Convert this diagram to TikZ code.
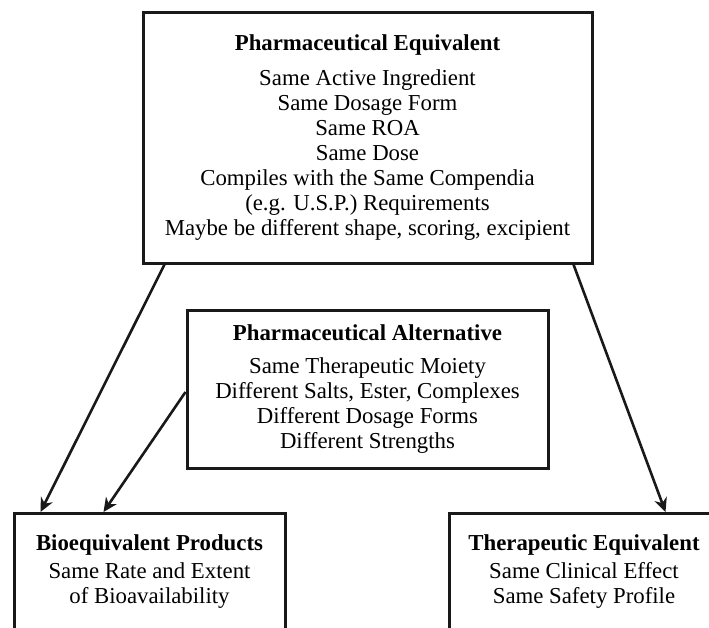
\documentclass[tikz,border=0pt]{standalone}
\usepackage{fontspec}
\setmainfont{Liberation Serif}
\usetikzlibrary{arrows.meta}
\begin{document}
\begin{tikzpicture}[x=1pt,y=1pt,
  box/.style={draw=black!90, line width=3pt, align=center, inner sep=0pt,
    font=\fontsize{22.8}{25}\selectfont},
  conn/.style={draw=black!90, line width=2.6pt, -{Stealth[length=14pt,width=13pt]}}]
\clip (0,0) rectangle (709,-627);
\node[box, minimum width=449, minimum height=251] (pe) at (367.5,-137.5)
  {\textbf{Pharmaceutical Equivalent}\\[10pt]
   Same Active Ingredient\\
   Same Dosage Form\\
   Same ROA\\
   Same Dose\\
   Compiles with the Same Compendia\\
   (e.g. U.S.P.) Requirements\\
   Maybe be different shape, scoring, excipient};
\node[box, minimum width=361, minimum height=158] (alt) at (367.5,-389)
  {\textbf{Pharmaceutical Alternative}\\[8pt]
   Same Therapeutic Moiety\\
   Different Salts, Ester, Complexes\\
   Different Dosage Forms\\
   Different Strengths};
\node[box, minimum width=271, minimum height=116, anchor=north] (bio) at (149.5,-512)
  {\textbf{Bioequivalent Products}\\[3pt]
   Same Rate and Extent\\
   of Bioavailability};
\node[box, minimum width=270, minimum height=116, anchor=north] (ther) at (584,-512)
  {\textbf{Therapeutic Equivalent}\\[3pt]
   Same Clinical Effect\\
   Same Safety Profile};
\draw[conn] ([xshift=23pt]pe.south west) -- ([xshift=28pt]bio.north west);
\draw[conn] ([yshift=-3pt]alt.west) -- ([xshift=91pt]bio.north west);
\draw[conn] ([xshift=-20pt]pe.south east) -- ([xshift=218pt]ther.north west);
\end{tikzpicture}
\end{document}
